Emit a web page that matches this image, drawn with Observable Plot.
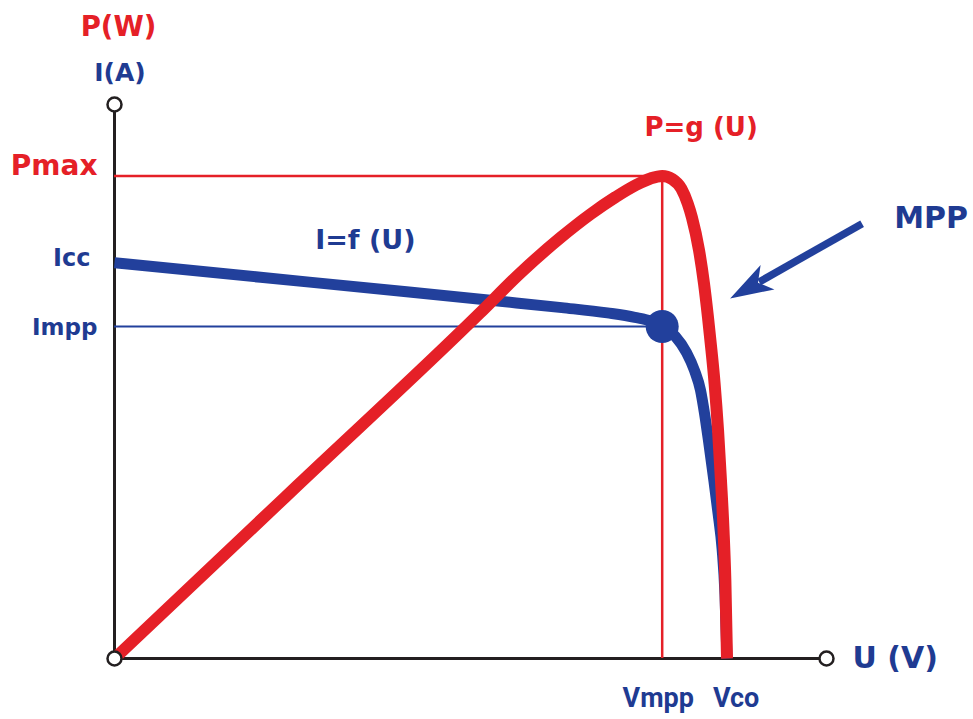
<!DOCTYPE html>
<html><head><meta charset="utf-8">
<script src="https://cdn.jsdelivr.net/npm/d3@7"></script>
<script src="https://cdn.jsdelivr.net/npm/@observablehq/plot@0.6"></script>
<style>html,body{margin:0;padding:0;background:#fff;}</style>
</head><body><div id="chart"></div>
<script>
// ---------- values ----------
const Vmpp = 30.0, Vco = 33.5, Icc = 9.0, Impp = 7.55, Pmax = 226.5;
const uAxisMax = 39, iAxisMax = 12.6, pAxisMax = 260;

// I = f(U)  (U in V, I in A)
const currentU = [0, 8, 16, 21, 24.5, 27, 28.5, 29.4, 30.0, 30.73, 31.33, 31.77, 32.10, 32.32, 32.56, 32.84, 33.06, 33.28, 33.44, 33.55];
const currentI = [9.0, 8.67, 8.34, 8.13, 7.98, 7.86, 7.76, 7.67, 7.55, 7.32, 6.96, 6.55, 6.10, 5.57, 4.88, 4.02, 3.30, 2.50, 1.45, 0];

// P = g(U)  (U in V, P in W)
const powerU = [0, 10, 20, 22.24, 24.43, 26.07, 27.44, 28.54, 29.36, 30.0, 30.55, 31.05, 31.4, 31.63, 32.02, 32.29, 32.51, 32.70, 32.87, 33.06, 33.22, 33.36, 33.46, 33.55];
const powerP = [0, 81, 162, 181.0, 197.5, 208.5, 216.5, 222.1, 225.3, 226.5, 225.0, 220.5, 213.5, 207.0, 191.5, 176.0, 160.0, 144.5, 129.1, 107.0, 83.5, 60.1, 36.6, 0];

// annotation anchors (U, I-axis units)
const mppArrowFrom = [40.95, 9.89];
const mppArrowTo = [33.72, 8.19];
const curveLabels = [
  {text: "I=f (U)", u: 13.74, i: 9.51, color: "blue", size: 27},
  {text: "P=g (U)", u: 32.13, i: 12.08, color: "red", size: 26},
  {text: "MPP", u: 44.73, i: 10.02, color: "blue", size: 30}
];

// ---------- styling ----------
const RED = "#e52027", BLUE = "#22409c", BLUE_TXT = "#1f3b92", AXIS = "#231f20";
const FONT = "DejaVu Sans", FONT2 = "Roboto";
const pToI = iAxisMax / pAxisMax;
const xRange = [114, 826], yRange = [658, 104];

const currentData = currentU.map((u, k) => ({u, i: currentI[k]}));
const powerData = powerU.map((u, k) => ({u, p: powerP[k]}));

// arrow geometry
const sx = d3.scaleLinear([0, uAxisMax], xRange), sy = d3.scaleLinear([0, iAxisMax], yRange);
const ang = Math.atan2(sy(mppArrowTo[1]) - sy(mppArrowFrom[1]), sx(mppArrowTo[0]) - sx(mppArrowFrom[0])) * 180 / Math.PI;
const shaftFrac = 0.78;
const shaftEnd = [mppArrowFrom[0] + (mppArrowTo[0] - mppArrowFrom[0]) * shaftFrac,
                  mppArrowFrom[1] + (mppArrowTo[1] - mppArrowFrom[1]) * shaftFrac];
const arrowHead = {draw(ctx) { ctx.moveTo(0, 0); ctx.lineTo(-43, -14); ctx.lineTo(-32, 0); ctx.lineTo(-43, 14); ctx.closePath(); }};

const txt = (s, o) => Plot.text([s], {text: d => d, fontWeight: 700, ...o});

const chart = Plot.plot({
  width: 973, height: 719, margin: 0,
  x: {domain: [0, uAxisMax], range: xRange, axis: null},
  y: {domain: [0, iAxisMax], range: yRange, axis: null},
  style: {fontFamily: FONT, background: "#fff", overflow: "visible"},
  marks: [
    // axes
    Plot.ruleX([0], {y1: 0, y2: iAxisMax, stroke: AXIS, strokeWidth: 3}),
    Plot.ruleY([0], {x1: 0, x2: uAxisMax, stroke: AXIS, strokeWidth: 3}),
    // reference lines
    Plot.ruleY([Pmax * pToI], {x1: 0, x2: Vmpp, stroke: RED, strokeWidth: 2.5}),
    Plot.ruleY([Impp], {x1: 0, x2: Vmpp, stroke: BLUE, strokeWidth: 2}),
    Plot.ruleX([Vmpp], {y1: 0, y2: Pmax * pToI, stroke: RED, strokeWidth: 2.5}),
    // I = f(U)
    Plot.line(currentData, {x: "u", y: "i", stroke: BLUE, strokeWidth: 11, curve: "monotone-x", strokeLinecap: "butt"}),
    Plot.dot([{u: Vmpp, i: Impp}], {x: "u", y: "i", r: 16.5, fill: BLUE, stroke: "none"}),
    // P = g(U)
    Plot.line(powerData, {x: "u", y: d => d.p * pToI, stroke: RED, strokeWidth: 12, curve: "monotone-x", strokeLinecap: "butt"}),
    // axis end circles
    Plot.dot([[0, 0], [0, iAxisMax], [uAxisMax, 0]], {x: d => d[0], y: d => d[1], r: 7, fill: "#fff", stroke: AXIS, strokeWidth: 2.5}),
    // MPP arrow
    Plot.link([0], {x1: mppArrowFrom[0], y1: mppArrowFrom[1], x2: shaftEnd[0], y2: shaftEnd[1], stroke: BLUE, strokeWidth: 7.5, strokeLinecap: "butt"}),
    Plot.dot([mppArrowTo], {x: d => d[0], y: d => d[1], symbol: arrowHead, r: 10, fill: BLUE, stroke: "none", rotate: ang}),
    // axis titles
    txt("P(W)", {x: 0, y: iAxisMax, dx: 4, dy: -77.8, fill: RED, fontSize: 27.5}),
    txt("I(A)", {x: 0, y: iAxisMax, dx: 5.5, dy: -32, fill: BLUE_TXT, fontSize: 25}),
    txt("U (V)", {x: uAxisMax, y: 0, dx: 26, dy: -0.6, fill: BLUE_TXT, fontSize: 30, textAnchor: "start"}),
    // value labels
    txt("Pmax", {x: 0, y: Pmax * pToI, dx: -17, dy: -9.4, fill: RED, fontSize: 28, textAnchor: "end"}),
    txt("Icc", {x: 0, y: Icc, dx: -24, dy: -4, fill: BLUE_TXT, fontSize: 24, textAnchor: "end"}),
    txt("Impp", {x: 0, y: Impp, dx: -17, dy: 1.3, fill: BLUE_TXT, fontSize: 23, textAnchor: "end"}),
    txt("Vmpp", {x: Vmpp, y: 0, dx: -4, dy: 40, fill: BLUE_TXT, fontSize: 27, fontFamily: FONT2}),
    txt("Vco", {x: Vco, y: 0, dx: 10, dy: 40, fill: BLUE_TXT, fontSize: 27, fontFamily: FONT2}),
    // curve labels
    Plot.text(curveLabels, {x: "u", y: "i", text: "text", fill: d => d.color === "red" ? RED : BLUE_TXT, fontSize: d => d.size, fontWeight: 700})
  ]
});
document.getElementById("chart").appendChild(chart);
</script>
</body></html>
